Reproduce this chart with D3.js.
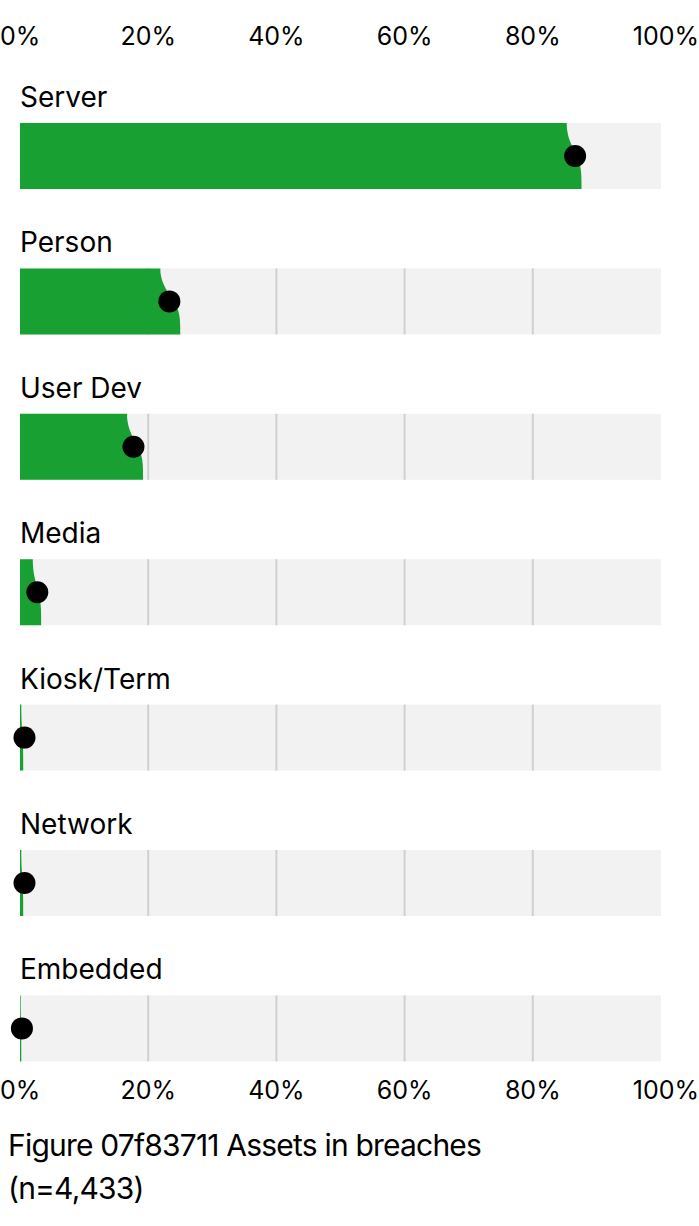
<!DOCTYPE html>
<html><head><meta charset="utf-8">
<script src="https://cdn.jsdelivr.net/npm/d3@7"></script>
<style>body{margin:0;background:#fff}text{font-family:Inter,"Noto Sans",sans-serif;fill:#000}</style>
</head><body><svg id="c" width="699" height="1226"></svg>
<script>
const categories=["Server","Person","User Dev","Media","Kiosk/Term","Network","Embedded"];
const estimates=[0.866,0.233,0.177,0.027,0.007,0.007,0.003];
const lowerBounds=[0.853,0.219,0.167,0.020,0.002,0.002,0.001];
const upperBounds=[0.876,0.250,0.192,0.033,0.005,0.005,0.002];
const tickValues=[0,0.2,0.4,0.6,0.8,1];
const title=["Figure 07f83711 Assets in breaches","(n=4,433)"];

const svg=d3.select("#c");
const x=d3.scaleLinear().domain([0,1]).range([20,661]);
const step=145.4, bandH=66;
const rowTop=i=>123+i*step;
const fmt=d3.format(".0%");

[38,1092].forEach(yy=>{
  svg.append("g").selectAll("text").data(tickValues).join("text")
    .attr("x",d=>x(d)).attr("y",yy).attr("text-anchor",d=>d===0?"start":d===1?"end":"middle")
    .attr("dominant-baseline","middle").attr("font-size",25)
    .attr("dx",d=>d===0?-20:d===1?38:0).text(fmt);
});

const area=d3.area().curve(d3.curveBasis).x0(x(0)).x1(d=>x(d[0])).y(d=>d[1]);
categories.forEach((c,i)=>{
  const t=rowTop(i);
  const g=svg.append("g");
  g.append("text").attr("x",20).attr("y",t-16).attr("font-size",28).text(c);
  g.append("rect").attr("x",x(0)).attr("y",t).attr("width",x(1)-x(0)).attr("height",bandH).attr("fill","#f2f2f2");
  g.selectAll("line").data([0.2,0.4,0.6,0.8]).join("line")
    .attr("x1",x).attr("x2",x).attr("y1",t).attr("y2",t+bandH).attr("stroke","#d0d0d0").attr("stroke-width",2);
  const lo=lowerBounds[i],hi=upperBounds[i];
  const pts=[[lo,t],[lo,t+bandH*0.1],[lo+(hi-lo)*0.2,t+bandH*0.3],[lo+(hi-lo)*0.85,t+bandH*0.55],[hi,t+bandH*0.75],[hi,t+bandH]];
  g.append("path").datum(pts).attr("d",area).attr("fill","#18a033");
  g.append("circle").attr("cx",x(estimates[i])).attr("cy",t+bandH/2).attr("r",11).attr("fill","#000");
});
title.forEach((s,i)=>svg.append("text").attr("x",8).attr("y",1156+i*43).attr("font-size",30).attr("letter-spacing",-0.8).text(s));
</script></body></html>
